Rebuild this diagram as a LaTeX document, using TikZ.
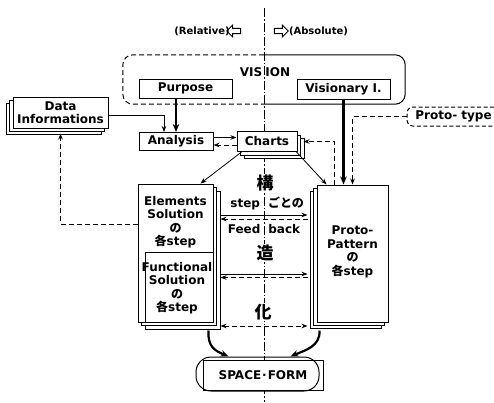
\documentclass[tikz,border=0pt]{standalone}
\usepackage{fontspec}
\setmainfont{DejaVu Sans}
\newfontfamily\jp{Noto Sans CJK JP}
\usetikzlibrary{arrows.meta,positioning,shadows,shapes.arrows}

\begin{document}
\begin{tikzpicture}[x=1pt, y=-1pt,
    font=\bfseries\fontsize{12}{13.5}\selectfont,
    box/.style={draw, line width=1pt, fill=white, inner sep=0pt, align=center},
    txt/.style={inner sep=0pt, align=center},
    kanji/.style={inner sep=1pt, fill=white, font=\jp\bfseries\fontsize{17}{17}\selectfont},
    shadowR/.style={copy shadow={shadow xshift=7pt, shadow yshift=-7pt, draw, fill=white, line width=0.8pt},
      copy shadow={shadow xshift=3.5pt, shadow yshift=-3.5pt, draw, fill=white, line width=0.8pt}},
    shadowL/.style={copy shadow={shadow xshift=-7pt, shadow yshift=-6pt, draw, fill=white, line width=0.8pt},
      copy shadow={shadow xshift=-3.5pt, shadow yshift=-3pt, draw, fill=white, line width=0.8pt}},
    hollow/.style={single arrow, draw, line width=0.9pt, minimum height=14pt, minimum width=12pt,
      single arrow head extend=2.5pt, single arrow head indent=0pt, inner sep=1.5pt},
    arrow/.style={-{Stealth[length=6pt,width=4.5pt]}, line width=0.8pt},
    bigarrow/.style={-{Stealth[length=8pt,width=6.5pt]}, line width=2.2pt},
    dasharrow/.style={arrow, dash pattern=on 5pt off 3pt},
    axis/.style={line width=0.8pt, dash pattern=on 9pt off 2pt on 1.5pt off 2pt}
  ]
  \useasboundingbox (0,0) rectangle (494,402);

  % relative / absolute axis
  \coordinate (axtop) at (264,8);
  \coordinate (axbot) at (264,402);
  \draw[axis] (axtop) -- (axbot);
  \node[txt, font=\bfseries\fontsize{10}{10}\selectfont] (rel) at (202,31) {(Relative)};
  \node[hollow, shape border rotate=180] (larrow) at (235,31) {};
  \node[hollow] (rarrow) at (280,31) {};
  \node[txt, font=\bfseries\fontsize{10}{10}\selectfont] (abs) at (318.5,31) {(Absolute)};

  % vision frame: dashed on the relative side, solid on the absolute side
  \node[minimum width=282pt, minimum height=49pt] (vision) at (264,79.5) {};
  \draw[line width=1pt, dash pattern=on 5pt off 3pt, rounded corners=10pt]
    (vision.north) -| (vision.west) |- (vision.south);
  \draw[line width=1pt, rounded corners=10pt]
    (vision.north) -| (vision.east) |- (vision.south);
  \node[txt] (visiontext) at (265,72) {VIS\kern3pt ION};

  \node[box, minimum width=93pt, minimum height=19pt] (purpose) at (185.5,88.5) {Purpose};
  \node[box, minimum width=93pt, minimum height=20pt] (visionary) at (343.5,89) {Visionary I.};
  \node[box, shadowL, minimum width=95pt, minimum height=31pt] (data) at (60.5,112.5)
    {Data\\Informations};
  \node[box, minimum width=74pt, minimum height=18pt] (analysis) at (176,141.5) {Analysis};
  \node[box, shadowR, minimum width=60pt, minimum height=20pt] (charts) at (267,141.5) {Charts};
  \node[box, dash pattern=on 4pt off 2.5pt, rounded corners=6pt, minimum width=93pt,
    minimum height=19pt] (prototype) at (453.5,116.5) {Proto- type};

  % the two stacks of steps
  \node[box, shadowR, minimum width=75pt, minimum height=138pt] (elements) at (175.5,253) {};
  \node[box, minimum width=68pt, minimum height=70pt] (functional) at (179,287) {};
  \node[txt] (elemtext) at (175.5,222) {Elements\\Solution\\{\jp の}\\{\jp 各}step};
  \node[txt] (funtext) at (177,288) {Functional\\Solution\\{\jp の}\\{\jp 各}step};
  \node[box, shadowL, minimum width=71pt, minimum height=137pt] (proto) at (352.5,253.5) {};
  \node[txt] (prototext) at (352.5,252) {Proto-\\Pattern\\{\jp の}\\{\jp 各}step};

  \node[kanji] (kou) at (265,183) {構};
  \node[kanji] (zou) at (265,253) {造};
  \node[kanji] (ka) at (263,312) {化};
  \node[txt] (perstep) at (267.2,203) {step\hspace{8pt}{\jp ごとの}};
  \node[txt] (feedback) at (264,229) {Feed\hspace{8pt}back};

  \node[box, minimum width=120pt, minimum height=30pt] (space) at (263,375) {SPACE\kern1pt·\kern1pt FORM};
  \node[draw, line width=1pt, rounded corners=15pt, minimum width=123pt,
    minimum height=34pt] (spaceblob) at (257.5,374) {};

  % connectors
  \draw[bigarrow] (purpose.south -| analysis.north) -- (analysis.north);
  \draw[arrow] ([yshift=-2.5pt]data.east) -| ([xshift=-12pt]analysis.north);
  \draw[arrow] ([yshift=4pt]analysis.east) -- ([yshift=4pt]charts.west);
  \draw[dasharrow] ([yshift=-3.5pt]charts.west) -- ([yshift=-3.5pt]analysis.east);
  \draw[arrow] ([xshift=5pt]charts.south west) -- ([xshift=-13pt]elements.north east);
  \draw[arrow] ([xshift=-1pt]charts.south east) -- ([xshift=10pt]proto.north west);
  \draw[dasharrow] ([xshift=18pt]proto.north west) |- ([xshift=6pt]charts.east);
  \draw[bigarrow] (visionary.south) -- (visionary.south |- proto.north);
  \draw[dasharrow] (prototype.west) -| ([xshift=36pt]proto.north west);
  \draw[dasharrow] ([yshift=29pt]elements.west) -| ([yshift=-5pt]data.south);

  % step-by-step feedback between the stacks
  \coordinate (fbl) at ([xshift=7pt]elements.east);
  \coordinate (fbr) at ([xshift=-9pt]proto.west);
  \draw[arrow] (fbl |- 0,215) -- (fbr |- 0,215);
  \draw[dasharrow] (fbr |- 0,219) -- (fbl |- 0,219);
  \draw[arrow] (fbl |- 0,274) -- (fbr |- 0,274);
  \draw[dasharrow] (fbr |- 0,277.5) -- (fbl |- 0,277.5);
  \draw[dasharrow, {Stealth[length=6pt,width=4.5pt]}-{Stealth[length=6pt,width=4.5pt]}]
    (fbl |- 0,326) -- (fbr |- 0,326);

  \draw[bigarrow] ([shift={(-5pt,-8pt)}]elements.south east)
    .. controls +(-1,16) and +(-14,-6) .. ([xshift=-29pt]spaceblob.north);
  \draw[bigarrow] ([shift={(3pt,-8pt)}]proto.south west)
    .. controls +(1,16) and +(14,-6) .. ([xshift=33pt]spaceblob.north);
\end{tikzpicture}
\end{document}
